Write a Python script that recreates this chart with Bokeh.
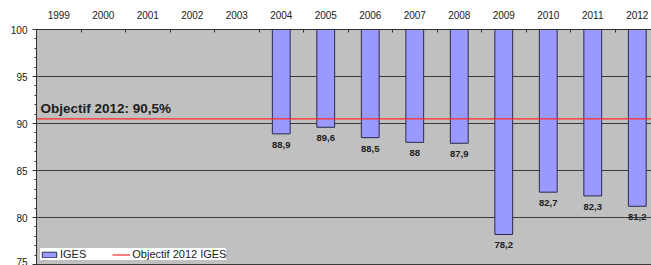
from bokeh.plotting import figure
from bokeh.models import (Range1d, LinearAxis, FixedTicker, SingleIntervalTicker,
                          Label, Legend, LegendItem, ColumnDataSource)
from bokeh.core.properties import value
from bokeh.embed import file_html
from bokeh.resources import INLINE

# ---- data ----
years = [str(y) for y in range(1999, 2013)]
iges_years = ["2004", "2005", "2006", "2007", "2008", "2009", "2010", "2011", "2012"]
iges = [88.9, 89.6, 88.5, 88.0, 87.9, 78.2, 82.7, 82.3, 81.2]
objective = 90.5
objective_text = "Objectif 2012: 90,5%"
series_name = "IGES"
objective_name = "Objectif 2012 IGES"
bar_base = 100

FONT = "Liberation Sans"

centers = [i + 0.5 for i in range(len(years))]
x = [years.index(y) + 0.5 for y in iges_years]
labels = [f"{v:g}".replace(".", ",") for v in iges]
src = ColumnDataSource(dict(x=x, bottom=iges, top=[bar_base] * len(iges), label=labels))

p = figure(width=651, height=265, output_backend="svg", toolbar_location=None,
           x_range=Range1d(0, 13.82), y_range=Range1d(74.9, 100),
           x_axis_location=None,
           min_border_left=36, min_border_top=29, min_border_right=0, min_border_bottom=0)

p.background_fill_color = "#c0c0c0"
p.border_fill_color = "white"
p.outline_line_color = None
for g in p.xgrid:
    g.visible = False

yt = SingleIntervalTicker(interval=5, num_minor_ticks=5)
p.yaxis.ticker = yt
p.ygrid.ticker = SingleIntervalTicker(interval=5)
p.ygrid.grid_line_color = "#3a3a3a"
p.ygrid.grid_line_width = 1

ax = p.yaxis[0]
ax.axis_line_color = "#303030"
ax.major_tick_line_color = "#303030"
ax.minor_tick_line_color = "#303030"
ax.major_tick_out = 4
ax.major_tick_in = 0
ax.minor_tick_out = 2
ax.minor_tick_in = 0
ax.major_label_standoff = 5
ax.major_label_text_font = FONT
ax.major_label_text_font_size = "10px"
ax.major_label_text_color = "#202020"

top_axis = LinearAxis(
    ticker=FixedTicker(ticks=centers, minor_ticks=[i for i in range(1, len(years))]),
    major_label_overrides={c: y for c, y in zip(centers, years)},
)
top_axis.axis_line_color = "#303030"
top_axis.major_tick_line_color = None
top_axis.major_tick_out = 0
top_axis.major_tick_in = 0
top_axis.minor_tick_line_color = "#303030"
top_axis.minor_tick_in = 3
top_axis.minor_tick_out = 0
top_axis.major_label_standoff = 11
top_axis.major_label_text_font = FONT
top_axis.major_label_text_font_size = "10px"
top_axis.major_label_text_color = "#202020"
p.add_layout(top_axis, "above")

bars = p.vbar(x="x", top="top", bottom="bottom", width=0.4, source=src,
              fill_color="#9999ff", line_color="#2a2a4a", line_width=1)

p.text(x="x", y="bottom", text="label", source=src, text_align="center",
       text_baseline="top", y_offset=8, text_font=value(FONT),
       text_font_size="9.5px", text_font_style="bold", text_color="#202020")

obj_line = p.line(x=[0, len(years)], y=[objective, objective],
                  line_color="#ff2a2a", line_width=1.2)

p.add_layout(Label(x=0.09, y=objective, y_offset=3, text=objective_text,
                   text_baseline="bottom", text_font=FONT, text_font_size="13.5px",
                   text_font_style="bold", text_color="#202020"))

legend = Legend(items=[LegendItem(label=series_name, renderers=[bars]),
                       LegendItem(label=objective_name, renderers=[obj_line])],
                orientation="horizontal", location=(4, 5), margin=0, padding=1,
                spacing=26, glyph_width=18, glyph_height=7, label_height=9,
                label_standoff=2, label_text_font=FONT, label_text_font_size="11px",
                label_text_color="#202020", border_line_color=None,
                background_fill_color="white", background_fill_alpha=1)
p.add_layout(legend)

open("out.html", "w").write(file_html(p, INLINE))
